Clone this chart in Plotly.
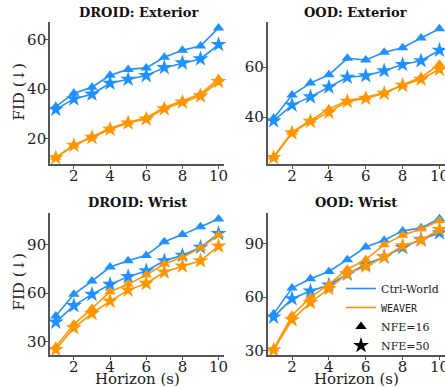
import plotly.graph_objects as go

horizon = [1, 2, 3, 4, 5, 6, 7, 8, 9, 10]

# DROID: Exterior
de_ctrl_16 = [32.9, 38.3, 40.7, 45.5, 47.9, 48.5, 52.8, 55.6, 57.3, 64.6]
de_ctrl_50 = [31.8, 36.0, 37.9, 42.3, 43.9, 45.4, 48.6, 50.5, 52.1, 57.9]
de_weaver_16 = [12.5, 17.5, 20.8, 24.2, 26.6, 28.4, 32.6, 35.2, 38.0, 44.0]
de_weaver_50 = [12.3, 17.3, 20.5, 23.8, 26.3, 27.9, 32.0, 34.7, 37.2, 43.0]

# OOD: Exterior
oe_ctrl_16 = [39.5, 48.8, 53.6, 56.9, 63.5, 62.8, 65.9, 67.7, 71.6, 75.3]
oe_ctrl_50 = [38.5, 44.8, 48.1, 52.0, 55.9, 56.5, 58.5, 61.0, 62.5, 66.7]
oe_weaver_16 = [24.1, 34.0, 38.7, 43.3, 46.5, 47.9, 49.7, 52.8, 55.9, 61.1]
oe_weaver_50 = [23.9, 33.7, 38.3, 41.9, 46.3, 47.5, 49.5, 52.7, 55.1, 59.1]

# DROID: Wrist
dw_ctrl_16 = [45.8, 59.2, 67.4, 76.0, 79.9, 83.2, 91.6, 96.0, 100.9, 105.6]
dw_ctrl_50 = [42.1, 52.2, 59.2, 65.3, 70.1, 73.6, 79.9, 83.2, 88.2, 96.6]
dw_weaver_16 = [26.9, 40.7, 50.5, 60.8, 65.5, 71.1, 77.9, 82.0, 87.7, 95.8]
dw_weaver_50 = [25.2, 38.6, 47.4, 55.0, 61.8, 65.9, 72.9, 76.6, 79.9, 88.9]

# OOD: Wrist
ow_ctrl_16 = [50.6, 65.1, 70.3, 74.4, 81.0, 88.1, 91.9, 97.1, 98.8, 103.9]
ow_ctrl_50 = [48.8, 59.1, 63.4, 66.8, 72.8, 78.4, 82.5, 87.8, 92.4, 96.0]
ow_weaver_16 = [30.9, 49.7, 60.0, 67.1, 75.6, 81.0, 89.4, 94.7, 98.1, 102.8]
ow_weaver_50 = [30.4, 47.3, 57.0, 64.7, 73.1, 77.3, 82.5, 88.7, 91.9, 97.9]

titles = ["DROID: Exterior", "OOD: Exterior", "DROID: Wrist", "OOD: Wrist"]
x_ticks = [2, 4, 6, 8, 10]
y_ticks_top_left = [20, 40, 60]
y_ticks_top_right = [40, 60]
y_ticks_bottom = [30, 60, 90]

BLUE = "#1E90FF"
ORANGE = "#FF9500"
SERIF = "DejaVu Serif"

panels = [
    (de_ctrl_16, de_ctrl_50, de_weaver_16, de_weaver_50),
    (oe_ctrl_16, oe_ctrl_50, oe_weaver_16, oe_weaver_50),
    (dw_ctrl_16, dw_ctrl_50, dw_weaver_16, dw_weaver_50),
    (ow_ctrl_16, ow_ctrl_50, ow_weaver_16, ow_weaver_50),
]

W, H = 445, 387
xdom = [[50 / W, 224 / W], [267.7 / W, 445 / W]]
ydom = [[1 - 164 / H, 1 - 21.7 / H], [1 - 354.7 / H, 1 - 212.7 / H]]
yranges = [[9.8, 67.1], [21.3, 78.1], [22.0, 109.5], [27.75, 107.3]]
yticks = [y_ticks_top_left, y_ticks_top_right, y_ticks_bottom, y_ticks_bottom]

fig = go.Figure()

for i, (c16, c50, w16, w50) in enumerate(panels):
    ax = "" if i == 0 else str(i + 1)
    for vals, col, sym, size in [
        (c16, BLUE, "triangle-up", 10),
        (c50, BLUE, "star", 12),
        (w16, ORANGE, "triangle-up", 10),
        (w50, ORANGE, "star", 12),
    ]:
        fig.add_trace(go.Scatter(
            x=horizon, y=vals, mode="lines+markers",
            line=dict(color=col, width=1.6),
            marker=dict(symbol=sym, size=size, color=col, line=dict(width=0)),
            xaxis="x" + ax, yaxis="y" + ax, showlegend=False, cliponaxis=False,
        ))

# legend entries
fig.add_trace(go.Scatter(x=[None], y=[None], mode="lines", name="Ctrl-World",
                         line=dict(color=BLUE, width=1.6), xaxis="x4", yaxis="y4"))
fig.add_trace(go.Scatter(x=[None], y=[None], mode="lines",
                         name="<span style='font-family:DejaVu Sans Mono;font-size:10px'>WEAVER</span>",
                         line=dict(color=ORANGE, width=1.6), xaxis="x4", yaxis="y4"))
fig.add_trace(go.Scatter(x=[None], y=[None], mode="markers", name="NFE=16",
                         marker=dict(symbol="triangle-up", size=10, color="black"), xaxis="x4", yaxis="y4"))
fig.add_trace(go.Scatter(x=[None], y=[None], mode="markers", name="NFE=50",
                         marker=dict(symbol="star", size=12, color="black"), xaxis="x4", yaxis="y4"))

axis_common = dict(
    showline=True, linecolor="#555555", linewidth=1.6, showgrid=False, zeroline=False,
    ticks="outside", ticklen=3, tickwidth=1, tickcolor="#555555",
    tickfont=dict(family=SERIF, size=15, color="#222222"), automargin=False,
    ticklabeloverflow="allow",
)

layout = dict(
    width=W, height=H, margin=dict(l=0, r=0, t=0, b=0),
    plot_bgcolor="white", paper_bgcolor="white", showlegend=True,
    legend=dict(x=341 / W, y=1 - 274 / H, xanchor="left", yanchor="top",
                font=dict(family=SERIF, size=11, color="#222222"),
                bgcolor="rgba(0,0,0,0)", itemwidth=30, tracegroupgap=0),
)
for i in range(4):
    ax = "" if i == 0 else str(i + 1)
    layout["xaxis" + ax] = dict(axis_common, domain=xdom[i % 2], range=[0.68, 10.3],
                                tickvals=x_ticks, anchor="y" + ax, ticklabelstandoff=-6)
    layout["yaxis" + ax] = dict(axis_common, domain=ydom[i // 2], range=yranges[i],
                                tickvals=yticks[i], anchor="x" + ax, ticklabelstandoff=-4)

fig.update_layout(**layout)

ann = []
title_pos = [(138, 12), (355.8, 12), (137.8, 202.7), (355.8, 202.7)]
for t, (x, y) in zip(titles, title_pos):
    ann.append(dict(text="<b>" + t + "</b>", x=x / W, y=1 - y / H, xref="paper", yref="paper",
                    showarrow=False, xanchor="center", yanchor="middle",
                    font=dict(family=SERIF, size=13, color="#111111")))
for y in [92.5, 282.5]:
    ann.append(dict(text="FID (↓)", x=18 / W, y=1 - y / H, xref="paper", yref="paper",
                    showarrow=False, textangle=-90, xanchor="center", yanchor="middle",
                    font=dict(family=SERIF, size=15, color="#222222")))
for x in [137, 356]:
    ann.append(dict(text="Horizon (s)", x=x / W, y=1 - 379 / H, xref="paper", yref="paper",
                    showarrow=False, xanchor="center", yanchor="middle",
                    font=dict(family=SERIF, size=15, color="#222222")))
fig.update_layout(annotations=ann)

fig.write_html("out.html", config={"displayModeBar": False},
               post_script="document.body.style.margin='0';document.body.style.padding='0';document.body.style.overflow='hidden';")
